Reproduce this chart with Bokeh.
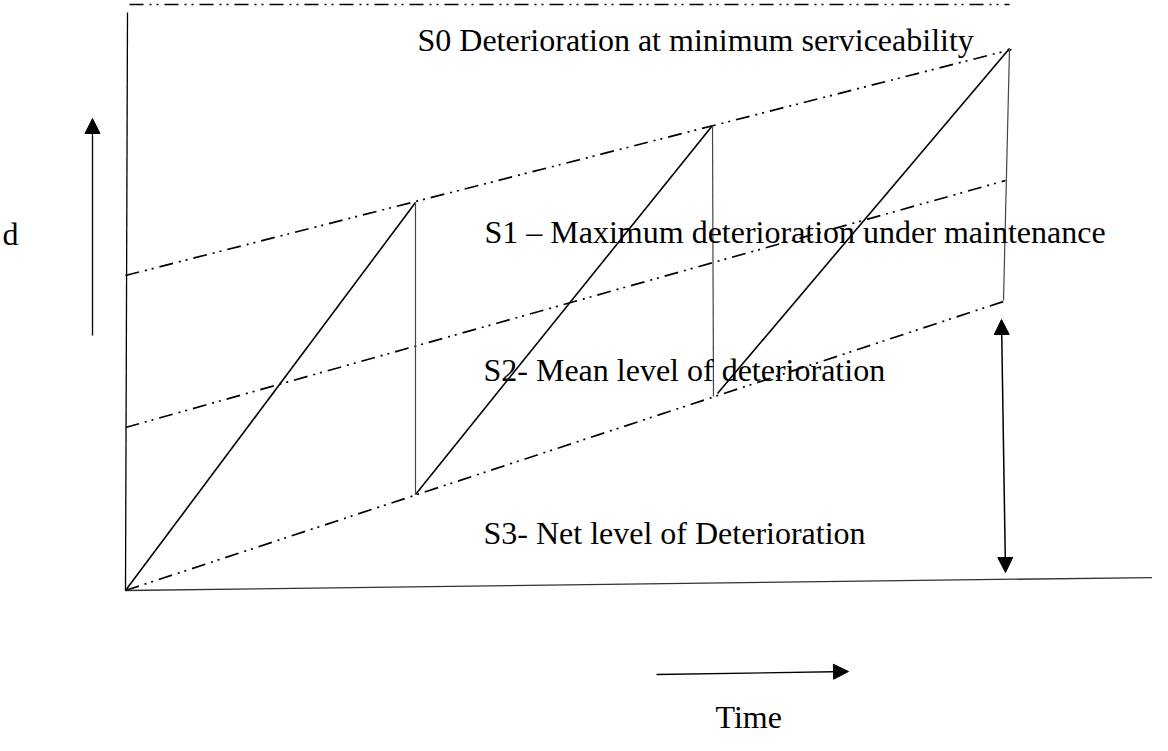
from bokeh.plotting import figure
from bokeh.models import Range1d, Arrow, NormalHead
from bokeh.embed import file_html
from bokeh.resources import INLINE
from bokeh.core.properties import value

# Diagram data: time (t) vs deterioration (d), origin at the lower-left corner
# Sawtooth: deterioration rises between maintenance interventions
rise_t_start = [0, 290, 592]
rise_d_start = [0, 96, 197]
rise_t_end = [290, 587, 884]
rise_d_end = [388, 465, 542]
# Maintenance drops (vertical)
drop_t_top = [290, 587, 884]
drop_d_top = [388, 465, 542]
drop_t_bot = [290, 588, 878]
drop_d_bot = [96, 194, 290]

# Reference levels (dash-dot lines)
s0_t = [4, 884]
s0_d = [586, 586]
s1_t = [0, 886]
s1_d = [315, 541]
s2_t = [0, 880]
s2_d = [163, 410]
s3_t = [0, 878]
s3_d = [0, 289]

# Axes lines
yaxis_t = [0, 2]
yaxis_d = [0, 578]
xaxis_t = [0, 1029]
xaxis_d = [0, 13]

labels = [
    "S0 Deterioration at minimum serviceability",
    "S1 \u2013 Maximum deterioration under maintenance",
    "S2- Mean level of deterioration",
    "S3- Net level of Deterioration",
    "d",
    "Time",
]
label_t = [292, 359, 358, 358, -123, 590]
label_d = [551, 359, 221, 58, 357, -126]

p = figure(width=1152, height=735, output_backend="svg", toolbar_location=None,
           x_range=Range1d(-125, 1027), y_range=Range1d(-145, 590),
           min_border=0, outline_line_color=None, background_fill_color="white",
           border_fill_color="white")
p.axis.visible = False
p.grid.visible = False

DASH = "14 6 2 5 2 6"
for tt, dd in [(s0_t, s0_d), (s1_t, s1_d), (s2_t, s2_d), (s3_t, s3_d)]:
    p.line(tt, dd, line_color="black", line_width=1.7, line_dash=DASH)

p.line(yaxis_t, yaxis_d, line_color="black", line_width=1.3)
p.line(xaxis_t, xaxis_d, line_color="#333333", line_width=1.3)

p.segment(x0=rise_t_start, y0=rise_d_start, x1=rise_t_end, y1=rise_d_end,
          line_color="black", line_width=1.6)
p.segment(x0=drop_t_top, y0=drop_d_top, x1=drop_t_bot, y1=drop_d_bot,
          line_color="#444444", line_width=1.2)

# arrows
head = dict(size=15, fill_color="black", line_color="black")
p.add_layout(Arrow(end=NormalHead(**head), x_start=-33, y_start=255, x_end=-33, y_end=472,
                   line_color="black", line_width=1.3))
p.add_layout(Arrow(end=NormalHead(**head), start=NormalHead(**head),
                   x_start=880, y_start=18, x_end=876, y_end=271,
                   line_color="black", line_width=1.5))
p.add_layout(Arrow(end=NormalHead(**head), x_start=531, y_start=-84, x_end=723, y_end=-81,
                   line_color="black", line_width=1.3))

p.text(x=label_t, y=label_d, text=labels, text_font=value("Liberation Serif"),
       text_font_size="32px", text_color="black", text_baseline="alphabetic",
       text_align="left")

open("out.html", "w").write(file_html(p, INLINE))
